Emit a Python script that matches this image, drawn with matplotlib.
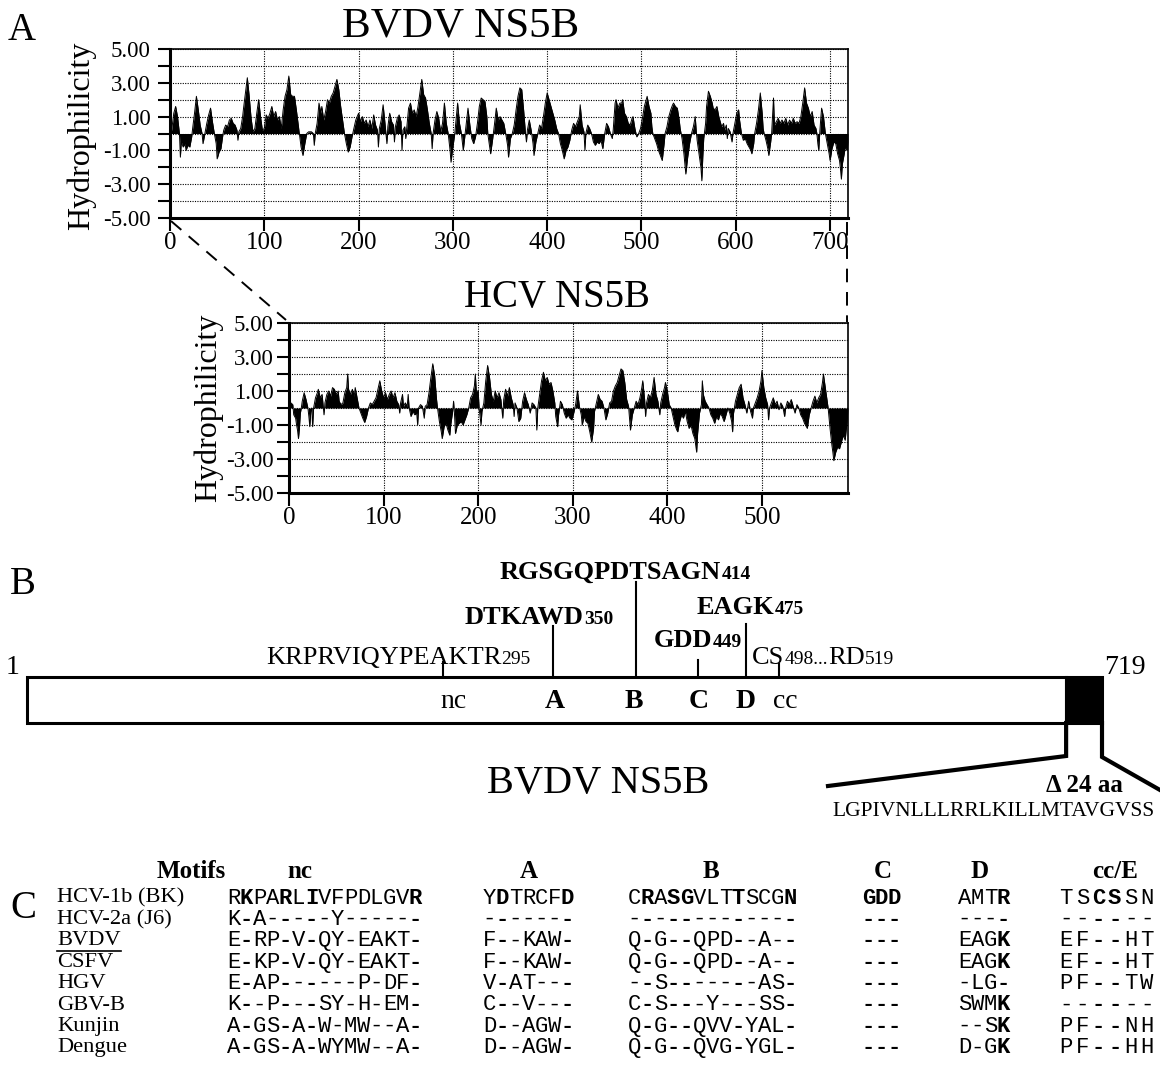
import matplotlib
matplotlib.use("Agg")
import matplotlib.pyplot as plt
from matplotlib.patches import Rectangle

# ---------------- data ----------------
bvdv_profile = [(0,-0.4),(2,0.3),(4,1.2),(6,1.6),(8,1.0),(10,0.0),(11,-1.4),(12,-0.5),(14,-0.8),(16,-0.6),(17,-1.0),(19,-0.7),(21,-0.8),(23,-0.2),(24,0.3),(26,1.2),(28,2.2),(30,1.4),(32,0.5),(34,0.0),(35,-0.6),(37,0.0),(39,0.6),(41,1.1),(43,1.5),(45,0.7),(47,0.0),(49,-0.6),(50,-1.5),(52,-1.1),(54,-0.9),(56,-0.1),(57,0.2),(59,0.5),(61,0.4),(63,0.8),(65,0.9),(67,0.6),(69,0.5),(71,0.2),(72,-0.4),(73,0.1),(75,0.3),(77,1.0),(78,1.5),(80,2.4),(82,3.3),(84,2.2),(86,0.9),(88,0.1),(90,0.3),(92,1.2),(94,2.0),(96,1.0),(98,0.2),(100,0.3),(102,1.1),(104,0.9),(106,1.2),(108,1.6),(110,1.0),(112,1.3),(114,0.8),(116,1.0),(118,0.3),(120,1.4),(122,2.2),(124,2.6),(126,3.4),(128,2.3),(130,2.2),(132,2.2),(134,1.4),(136,0.5),(137,0.0),(139,-0.8),(141,-1.3),(143,-0.6),(145,0.0),(147,0.1),(150,0.1),(152,0.0),(153,-0.7),(154,0.0),(156,0.6),(158,1.8),(160,1.2),(161,1.6),(163,0.8),(165,1.3),(167,2.0),(169,1.8),(171,2.2),(173,2.4),(175,2.8),(177,3.2),(179,2.6),(181,1.6),(183,0.8),(185,0.0),(187,-0.6),(189,-1.1),(191,-0.8),(193,-0.2),(195,0.3),(197,0.8),(200,1.2),(202,0.7),(204,1.0),(206,0.6),(208,0.8),(210,0.4),(212,0.8),(214,0.3),(216,1.1),(218,0.5),(220,0.2),(221,-0.8),(222,0.3),(224,0.8),(226,1.7),(228,0.6),(230,-0.6),(231,0.4),(233,1.2),(235,0.7),(237,0.5),(238,-0.5),(239,0.4),(241,0.9),(243,1.1),(245,0.7),(246,-1.0),(247,0.2),(249,0.4),(250,-0.3),(251,0.3),(253,1.5),(255,1.8),(257,1.2),(259,1.4),(261,1.0),(263,1.6),(265,2.4),(267,3.2),(269,2.3),(271,2.1),(273,1.4),(275,0.6),(277,0.0),(278,-0.9),(279,0.0),(281,0.8),(283,1.3),(285,0.9),(287,0.1),(289,0.6),(291,1.8),(293,0.6),(295,0.0),(297,-1.0),(298,-1.7),(300,-0.8),(302,0.0),(304,1.2),(305,1.8),(307,0.6),(309,0.0),(311,-1.0),(313,0.0),(315,1.0),(316,1.5),(318,0.5),(320,-0.3),(322,-0.6),(324,-0.2),(326,0.6),(328,1.6),(330,2.1),(332,2.0),(334,1.9),(336,1.0),(337,0.0),(339,-0.8),(340,-1.2),(342,-0.4),(344,0.5),(346,1.5),(348,0.8),(350,1.0),(352,0.8),(354,0.6),(356,0.0),(358,-0.7),(359,-1.4),(361,-0.3),(363,0.0),(365,0.5),(367,1.4),(369,2.2),(371,2.7),(373,2.6),(375,1.4),(377,0.0),(378,-0.5),(379,0.2),(381,0.8),(383,0.2),(385,-0.6),(386,-1.3),(388,-0.5),(390,0.0),(392,0.5),(394,0.3),(396,1.0),(398,1.8),(400,2.4),(402,2.0),(404,1.6),(406,1.2),(408,0.8),(410,0.3),(412,0.0),(414,-0.6),(416,-1.0),(418,-1.5),(420,-1.0),(422,-0.8),(424,-0.4),(426,0.2),(428,0.6),(430,0.4),(432,0.7),(434,1.0),(435,1.7),(437,0.5),(439,0.1),(440,-1.0),(441,0.0),(443,0.5),(445,0.3),(447,0.0),(449,-0.5),(451,-0.7),(453,-0.5),(455,-0.6),(457,-0.4),(459,-0.9),(461,0.0),(463,0.6),(465,0.4),(467,0.0),(469,-0.3),(470,0.2),(472,1.8),(473,2.0),(475,1.5),(477,1.8),(479,1.8),(480,2.0),(482,1.2),(484,1.0),(486,0.6),(488,0.5),(490,0.9),(491,1.0),(493,0.3),(495,-0.2),(497,0.0),(499,0.3),(501,0.9),(503,1.6),(505,2.0),(506,2.2),(508,1.6),(510,1.2),(511,0.4),(512,0.0),(514,-0.3),(516,-0.6),(518,-1.0),(520,-1.3),(522,-1.6),(524,-0.6),(525,0.0),(527,0.4),(529,1.0),(531,1.4),(533,1.7),(534,1.8),(536,1.6),(538,1.5),(540,0.8),(541,0.3),(543,-0.3),(545,-1.2),(547,-2.4),(549,-1.4),(551,-0.6),(553,0.0),(555,0.4),(557,1.0),(558,0.2),(559,-0.4),(561,-1.2),(563,-2.0),(564,-2.8),(565,-1.4),(566,-0.3),(568,0.6),(569,1.6),(571,2.5),(573,2.2),(575,1.8),(576,1.5),(578,1.4),(580,1.6),(582,1.0),(583,0.8),(585,0.4),(587,0.6),(588,0.2),(590,0.5),(591,-0.3),(592,0.3),(594,0.1),(596,-0.5),(597,0.0),(599,0.6),(601,1.2),(603,1.4),(604,0.8),(606,0.0),(608,-0.4),(610,-0.3),(612,-0.6),(614,-0.8),(616,-1.0),(617,-1.2),(619,-0.6),(620,0.0),(622,0.6),(624,1.4),(626,2.4),(628,1.2),(629,0.3),(630,0.0),(632,-0.4),(634,-0.9),(635,-1.3),(637,-0.5),(638,0.0),(640,2.1),(641,0.5),(643,0.7),(645,0.9),(647,0.6),(649,0.8),(651,0.6),(653,0.9),(655,0.5),(657,0.8),(659,0.6),(661,0.9),(663,0.6),(665,0.7),(667,0.6),(669,1.0),(671,1.8),(673,2.7),(675,1.8),(677,1.5),(679,1.0),(681,1.3),(683,0.5),(685,0.3),(686,0.0),(687,-0.6),(688,-1.0),(689,0.0),(690,0.8),(691,1.5),(693,1.0),(695,0.0),(697,-0.6),(699,-1.2),(700,-1.6),(702,-0.9),(704,-0.5),(706,-0.6),(708,-1.2),(710,-1.6),(711,-2.1),(712,-2.7),(713,-1.8),(715,-1.2),(716,-0.8),(718,-1.0),(719,-0.5)]

hcv_profile = [(0,0.2),(2,0.3),(4,0.2),(5,-0.4),(7,-0.6),(8,-1.0),(9,-1.3),(10,-1.8),(11,-1.2),(12,-0.3),(13,0.0),(14,0.4),(16,0.9),(18,0.5),(20,0.0),(21,-0.5),(22,-1.1),(23,-0.2),(24,0.0),(25,-1.1),(26,0.0),(28,0.6),(30,0.9),(31,1.1),(33,0.6),(35,0.8),(36,0.2),(37,-0.4),(38,0.3),(40,0.8),(42,1.0),(44,0.7),(46,1.2),(48,1.1),(50,0.8),(52,1.0),(53,0.4),(55,0.2),(57,0.3),(59,0.9),(61,1.2),(62,2.0),(63,1.1),(65,0.8),(67,1.1),(69,0.7),(70,1.2),(72,0.6),(74,0.0),(76,-0.3),(78,-0.6),(80,-0.85),(82,-0.5),(84,0.0),(86,0.3),(88,0.2),(90,0.4),(92,0.6),(94,1.1),(96,1.6),(98,1.0),(100,0.6),(102,0.9),(104,0.5),(106,0.8),(108,1.0),(110,0.6),(112,0.9),(114,0.4),(116,0.2),(117,-0.3),(118,0.3),(120,0.8),(121,0.1),(123,0.3),(125,0.1),(126,0.8),(127,0.0),(129,-0.5),(131,-0.2),(133,-0.4),(135,-0.3),(136,-1.0),(137,0.0),(139,0.2),(141,0.1),(143,-0.6),(144,0.1),(146,0.2),(148,0.9),(150,1.8),(152,2.6),(154,1.9),(156,0.5),(157,0.0),(159,-0.8),(161,-1.4),(162,-1.8),(164,-1.1),(166,-0.9),(168,-1.3),(170,-1.6),(171,-1.0),(173,-0.2),(174,0.4),(175,-0.4),(176,-1.5),(178,-1.0),(180,-0.9),(182,-0.8),(184,-1.0),(186,-0.7),(188,-0.4),(190,0.0),(192,0.6),(194,0.8),(196,1.3),(197,2.0),(198,1.0),(200,1.0),(201,0.0),(203,-1.0),(204,-0.2),(206,0.3),(208,1.6),(210,2.5),(212,1.8),(214,0.8),(216,0.4),(218,1.0),(220,0.6),(222,0.9),(224,0.5),(226,-0.6),(227,0.5),(229,1.1),(231,0.7),(233,1.2),(235,0.6),(237,0.2),(238,-0.5),(239,0.3),(241,0.0),(243,-0.8),(245,-0.6),(247,0.4),(249,0.9),(251,0.5),(253,0.2),(255,-0.3),(257,0.3),(259,0.2),(261,0.0),(262,-1.3),(263,0.0),(265,0.8),(267,1.6),(269,2.1),(271,1.6),(273,1.8),(275,1.4),(277,1.5),(279,1.0),(281,0.3),(282,-0.5),(284,-1.1),(285,-0.4),(287,0.4),(289,0.2),(291,-0.3),(293,-0.6),(295,-0.4),(297,-0.6),(299,-0.7),(301,-0.3),(303,0.2),(305,1.0),(307,0.1),(309,-0.4),(310,-1.0),(312,-0.5),(314,-0.8),(316,-0.9),(318,-1.4),(320,-2.0),(322,-1.2),(323,-0.2),(325,0.3),(327,0.8),(329,0.5),(331,0.4),(333,0.0),(335,-0.7),(337,-0.3),(339,0.3),(341,0.4),(343,1.0),(345,1.3),(347,1.5),(349,1.9),(351,2.3),(353,2.2),(355,1.5),(357,0.5),(359,0.1),(361,-1.3),(363,-0.4),(365,0.0),(367,0.4),(369,0.2),(371,0.6),(373,1.2),(374,1.6),(376,0.5),(377,-0.5),(378,0.3),(380,0.8),(382,0.6),(384,1.0),(386,1.8),(388,0.8),(390,0.4),(392,-0.4),(393,0.3),(395,0.8),(397,1.2),(398,1.5),(400,1.0),(402,0.2),(404,0.0),(406,-0.5),(408,-1.0),(410,-1.3),(411,-1.4),(413,-0.8),(415,-0.4),(417,-0.6),(419,-0.2),(421,-0.8),(423,-1.2),(425,-1.0),(427,-1.5),(429,-1.8),(431,-2.6),(432,-1.5),(434,-0.3),(436,0.2),(437,1.6),(438,0.8),(440,0.4),(442,0.2),(444,0.0),(446,-0.4),(448,-0.6),(450,-0.9),(452,-0.5),(454,-0.7),(456,-0.3),(458,-0.5),(460,-0.8),(462,-0.4),(464,0.0),(466,-0.3),(468,-0.8),(469,-1.4),(470,-0.3),(472,0.4),(474,0.8),(476,1.2),(478,1.4),(480,0.6),(482,0.2),(484,-0.3),(486,0.4),(488,-0.2),(490,-0.6),(491,0.0),(493,0.3),(495,0.6),(497,1.0),(499,1.6),(500,2.2),(502,1.2),(504,0.6),(506,0.2),(507,-0.7),(508,0.0),(510,0.3),(512,0.6),(514,0.2),(516,0.4),(518,-0.1),(520,0.3),(522,0.1),(524,-0.5),(525,0.0),(527,0.4),(529,0.2),(531,0.5),(533,0.1),(535,-0.3),(537,0.2),(539,0.0),(541,-0.4),(543,-0.6),(545,-0.9),(547,-1.1),(548,-1.2),(550,-0.4),(552,0.0),(554,0.4),(556,0.7),(558,0.3),(560,0.6),(562,0.8),(564,1.5),(565,2.0),(567,1.2),(569,0.4),(570,0.0),(572,-1.2),(574,-2.2),(575,-2.6),(576,-3.1),(578,-2.6),(580,-2.3),(582,-2.4),(584,-2.0),(586,-1.6),(588,-1.9),(590,-0.8),(591,0.0)]

bvdv_length = 719
hcv_length = 591
ytick_values = [5, 4, 3, 2, 1, 0, -1, -2, -3, -4, -5]
ytick_labels = ["5.00", "", "3.00", "", "1.00", "", "-1.00", "", "-3.00", "", "-5.00"]
bvdv_xticks = [0, 100, 200, 300, 400, 500, 600, 700]
hcv_xticks = [0, 100, 200, 300, 400, 500]

# panel B: motif positions (residues) on the BVDV NS5B bar
motif_names = ["nc", "A", "B", "C", "D", "cc"]
motif_res = [278, 352, 407, 449, 481, 503]
deleted_aa = 24
deleted_seq = "LGPIVNLLLRRLKILLMTAVGVSS"

# panel C: alignment
row_names = ["HCV-1b (BK)", "HCV-2a (J6)", "BVDV", "CSFV", "HGV", "GBV-B", "Kunjin", "Dengue"]
motif_nc = ["RKPARLIVFPDLGVR", "K-A-----Y------", "E-RP-V-QY-EAKT-", "E-KP-V-QY-EAKT-",
            "E-AP------P-DF-", "K--P---SY-H-EM-", "A-GS-A-W-MW--A-", "A-GS-A-WYMW--A-"]
motif_A = ["YDTRCFD", "-------", "F--KAW-", "F--KAW-", "V-AT---", "C--V---", "D--AGW-", "D--AGW-"]
motif_B = ["CRASGVLTTSCGN", "-------------", "Q-G--QPD--A--", "Q-G--QPD--A--",
           "--S-------AS-", "C-S---Y---SS-", "Q-G--QVV-YAL-", "Q-G--QVG-YGL-"]
motif_C = ["GDD", "---", "---", "---", "---", "---", "---", "---"]
motif_D = ["AMTR", "----", "EAGK", "EAGK", "-LG-", "SWMK", "--SK", "D-GK"]
motif_ccE = ["TSCSSN", "------", "EF--HT", "EF--HT", "PF--TW", "------", "PF--NH", "PF--HH"]

# ---------------- figure ----------------
W, H = 1160, 1085
fig = plt.figure(figsize=(W / 100, H / 100), dpi=100)
SERIF = ["Liberation Serif", "DejaVu Serif"]
MONO = ["Liberation Mono", "DejaVu Sans Mono"]


def px_axes(l, t, r, b, **kw):
    return fig.add_axes([l / W, 1 - b / H, (r - l) / W, (b - t) / H], **kw)


def profile(ax, data, length, xticks, ypad):
    xs = [p for p, v in data]
    ys = [v for p, v in data]
    ax.fill_between(xs, ys, 0, color="black", lw=0, zorder=3)
    ax.plot(xs, ys, color="black", lw=0.7, zorder=3)
    ax.set_xlim(0, length)
    ax.set_ylim(-5, 5)
    ax.set_yticks(ytick_values)
    ax.set_yticklabels(ytick_labels, fontfamily=SERIF, fontsize=16.5)
    ax.set_xticks(xticks)
    ax.set_xticklabels([str(t) for t in xticks], fontfamily=SERIF, fontsize=18)
    ax.grid(True, color="black", ls=(0, (1, 1.2)), lw=0.8, zorder=1)
    ax.tick_params(axis="y", length=9, width=1.5, pad=ypad, direction="out")
    ax.tick_params(axis="x", length=9, width=1.5, pad=1, direction="out")
    for s in ["left", "bottom"]:
        ax.spines[s].set_linewidth(2.2)
    for s in ["top", "right"]:
        ax.spines[s].set_linewidth(1.2)
    ax.set_axisbelow(True)


ax1 = px_axes(170, 49, 848, 218)
profile(ax1, bvdv_profile, bvdv_length, bvdv_xticks, 5)
ax2 = px_axes(289, 323, 848, 493)
profile(ax2, hcv_profile, hcv_length, hcv_xticks, 2)

# overlay in pixel coordinates
ov = fig.add_axes([0, 0, 1, 1], facecolor="none")
ov.set_xlim(0, W)
ov.set_ylim(H, 0)
ov.axis("off")
renderer = fig.canvas.get_renderer()


def T(x, y, s, size, weight="normal", ha="left", va="center", family=SERIF, **kw):
    return ov.text(x, y, s, fontsize=size, fontweight=weight, ha=ha, va=va, family=family, **kw)


def pieces(x, y, parts):
    for s, size, w in parts:
        t = ov.text(x, y, s, fontsize=size, fontweight=w, ha="left", va="baseline", family=SERIF)
        bb = t.get_window_extent(renderer=renderer)
        x = bb.x1 * W / fig.bbox.width
    return x


# ---- panel A ----
T(8, 30, "A", 28)
T(461, 26, "BVDV NS5B", 31, ha="center")
T(81, 136, "Hydrophilicity", 23, ha="center", rotation=90)
T(557, 298, "HCV NS5B", 28, ha="center")
T(208, 408, "Hydrophilicity", 23, ha="center", rotation=90)
ov.plot([171, 286], [221, 320], color="black", lw=1.4, ls=(0, (7, 5)))
ov.plot([847, 847], [222, 322], color="black", lw=1.4, ls=(0, (7, 5)))

# ---- panel B ----
bar_l, bar_r, bar_t, bar_b = 27, 1102, 677, 723


def bx(res):
    return bar_l + res * (bar_r - bar_l) / bvdv_length


T(10, 585, "B", 28)
ov.add_patch(Rectangle((bar_l, bar_t), bx(bvdv_length - deleted_aa) - bar_l, bar_b - bar_t,
                       facecolor="white", edgecolor="black", lw=2.2, zorder=2))
ov.add_patch(Rectangle((bx(bvdv_length - deleted_aa), bar_t), bar_r - bx(bvdv_length - deleted_aa),
                       bar_b - bar_t, facecolor="black", edgecolor="black", lw=2.2, zorder=2))
T(13, 668, "1", 20, ha="center")
T(1104, 667, "719", 20)

tick_tops = [662, 626, 582, 660, 624, 664]
label_x = [453, 555, 634, 699, 746, 785]
for name, r, top, lx in zip(motif_names, motif_res, tick_tops, label_x):
    ov.plot([bx(r), bx(r)], [top, bar_t], color="black", lw=1.5, zorder=3)
    T(lx, 702, name, 20, weight="normal" if name in ("nc", "cc") else "bold", ha="center")

pieces(266, 664, [("KRPRVIQYPEAKTR", 19, "normal"), ("295", 14, "normal")])
pieces(465, 624, [("DTKAWD", 19, "bold"), ("350", 14, "bold")])
pieces(500, 579, [("RGSGQPDTSAGN", 19, "bold"), ("414", 14, "bold")])
pieces(654, 647, [("GDD", 19, "bold"), ("449", 14, "bold")])
pieces(697, 614, [("EAGK", 19, "bold"), ("475", 14, "bold")])
pieces(752, 664, [("CS", 19, "normal"), ("498...", 14, "normal"), ("RD", 19, "normal"), ("519", 14, "normal")])

dl = bx(bvdv_length - deleted_aa)
ov.plot([dl, dl, 828], [bar_b, 756, 786], color="black", lw=3, solid_joinstyle="miter")
ov.plot([bar_r, bar_r, 1160], [bar_b, 757, 790], color="black", lw=3, solid_joinstyle="miter")
T(598, 784, "BVDV NS5B", 29, ha="center")
T(1084, 786, "\u0394 %d aa" % deleted_aa, 18, weight="bold", ha="center")
T(832, 812, deleted_seq, 15.5)

# ---- panel C ----
T(10, 908, "C", 28)
cols = [
    ("nc", 300, 227, 13.0, {1, 4, 6, 14}, motif_nc),
    ("A", 529, 483, 13.0, {1, 6}, motif_A),
    ("B", 711, 628, 13.0, {1, 3, 4, 8, 12}, motif_B),
    ("C", 883, 862, 13.0, {0, 1, 2}, motif_C),
    ("D", 980, 958, 13.0, {3}, motif_D),
    ("cc/E", 1115, 1058, 16.2, {2, 3}, motif_ccE),
]
head_y = 872
row_y0, row_dy = 898, 21.4
T(191, head_y, "Motifs", 18, weight="bold", ha="center")
for head, hx, x0, pitch, bold, seqs in cols:
    T(hx, head_y, head, 18, weight="bold", ha="center")
    for i, seq in enumerate(seqs):
        y = row_y0 + i * row_dy
        for j, ch in enumerate(seq):
            T(x0 + (j + 0.5) * pitch, y, ch, 16, weight="bold" if j in bold else "normal",
              ha="center", family=MONO)
for i, name in enumerate(row_names):
    y = row_y0 + i * row_dy
    t = T(57, y, name, 16.2)
    if name == "BVDV":
        bb = t.get_window_extent(renderer=renderer)
        x1 = bb.x1 * W / fig.bbox.width
        ov.plot([57, x1], [y + 10, y + 10], color="black", lw=1.2)

fig.savefig("out.png", dpi=100)
